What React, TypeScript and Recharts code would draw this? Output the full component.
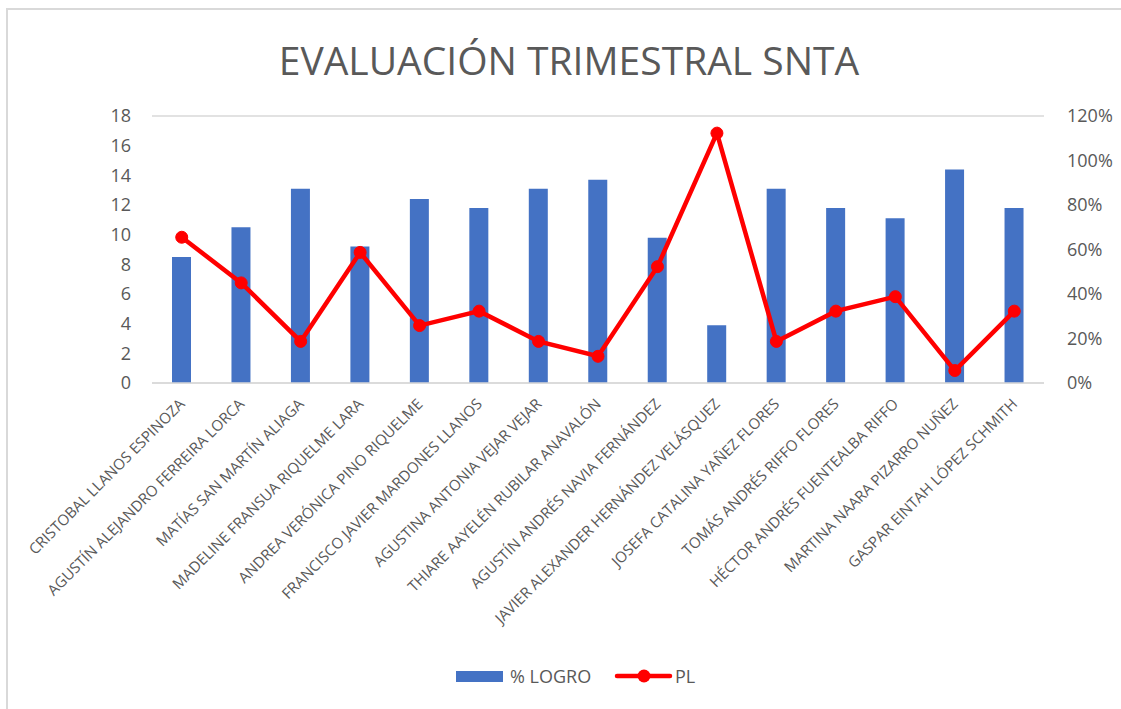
import React from "react";
import { ComposedChart, Bar, Line, XAxis, YAxis, CartesianGrid } from "recharts";

const students = [
  "CRISTOBAL LLANOS ESPINOZA",
  "AGUSTÍN ALEJANDRO FERREIRA LORCA",
  "MATÍAS SAN MARTÍN ALIAGA",
  "MADELINE FRANSUA RIQUELME LARA",
  "ANDREA VERÓNICA PINO RIQUELME",
  "FRANCISCO JAVIER MARDONES LLANOS",
  "AGUSTINA ANTONIA VEJAR VEJAR",
  "THIARE AAYELÉN RUBILAR ANAVALÓN",
  "AGUSTÍN ANDRÉS NAVIA FERNÁNDEZ",
  "JAVIER ALEXANDER HERNÁNDEZ VELÁSQUEZ",
  "JOSEFA CATALINA YAÑEZ FLORES",
  "TOMÁS ANDRÉS RIFFO FLORES",
  "HÉCTOR ANDRÉS FUENTEALBA RIFFO",
  "MARTINA NAARA PIZARRO NUÑEZ",
  "GASPAR EINTAH LÓPEZ SCHMITH",
];

const logro = [8.5, 10.5, 13.1, 9.2, 12.4, 11.8, 13.1, 13.7, 9.8, 3.9, 13.1, 11.8, 11.1, 14.4, 11.8];
const pl = [0.655, 0.45, 0.187, 0.587, 0.258, 0.323, 0.187, 0.12, 0.523, 1.123, 0.187, 0.323, 0.388, 0.056, 0.323];

const leftTicks = [0, 2, 4, 6, 8, 10, 12, 14, 16, 18];
const rightTicks = [0, 0.2, 0.4, 0.6, 0.8, 1.0, 1.2];

const data = students.map((name, i) => ({ name, logro: logro[i], pl: pl[i] }));

const FONT = "'Open Sans', 'DejaVu Sans', sans-serif";
const TXT = "#595959";

const CatTick = (props: any) => {
  const { x, y, payload } = props;
  return (
    <g transform={`translate(${x + 4},${y + 22})`}>
      <text
        textAnchor="end"
        transform="rotate(-45)"
        fill={TXT}
        fontSize={15}
        fontFamily={FONT}
      >
        {payload.value}
      </text>
    </g>
  );
};

const LegendBox = () => (
  <div
    style={{
      position: "absolute",
      left: 0,
      top: 660,
      width: 1121,
      height: 32,
      fontFamily: FONT,
      fontSize: 18,
      color: TXT,
    }}
  >
    <svg width={1121} height={32} style={{ position: "absolute", left: 0, top: 0 }}>
      <rect x={456} y={11} width={47} height={11} fill="#4472C4" />
      <text x={510} y={23} fill={TXT} fontSize={18} fontFamily={FONT}>% LOGRO</text>
      <line x1={617} y1={16} x2={670} y2={16} stroke="#FF0000" strokeWidth={4.5} strokeLinecap="round" />
      <circle cx={644} cy={16} r={6.5} fill="#FF0000" />
      <text x={675} y={23} fill={TXT} fontSize={18} fontFamily={FONT}>PL</text>
    </svg>
  </div>
);

export default function App() {
  return (
    <div style={{ position: "absolute", left: 0, top: 0, width: 1121, height: 709, background: "#fff", overflow: "hidden" }}>
      <div
        style={{
          position: "absolute",
          left: 6,
          top: 8,
          width: 1200,
          height: 800,
          border: "2px solid #d9d9d9",
          boxSizing: "border-box",
        }}
      />
      <svg width={1121} height={100} style={{ position: "absolute", left: 0, top: 0 }}>
        <text x={569} y={75} textAnchor="middle" fill={TXT} fontSize={39} fontFamily={FONT}>
          EVALUACIÓN TRIMESTRAL SNTA
        </text>
      </svg>
      <div style={{ position: "absolute", left: 0, top: 0 }}>
        <ComposedChart
          width={1121}
          height={709}
          data={data}
          margin={{ top: 116, right: 0, bottom: 126, left: 0 }}
        >
          <CartesianGrid vertical={false} stroke="#d9d9d9" strokeWidth={1.5} />
          <XAxis
            dataKey="name"
            interval={0}
            tick={<CatTick />}
            tickLine={false}
            tickSize={0}
            tickMargin={0}
            height={200}
            axisLine={{ stroke: "#d9d9d9", strokeWidth: 1.5 }}
          />
          <YAxis
            yAxisId="left"
            orientation="left"
            domain={[0, 18]}
            ticks={leftTicks}
            width={152}
            axisLine={false}
            tickLine={false}
            tickSize={0}
            tickMargin={21}
            tick={{ fill: TXT, fontSize: 18, fontFamily: FONT }}
          />
          <YAxis
            yAxisId="right"
            orientation="right"
            domain={[0, 1.2]}
            ticks={rightTicks}
            width={77}
            axisLine={false}
            tickLine={false}
            tickSize={0}
            tickMargin={23}
            tickFormatter={(v: number) => `${Math.round(v * 100)}%`}
            tick={{ fill: TXT, fontSize: 18, fontFamily: FONT }}
          />
          <Bar yAxisId="left" dataKey="logro" fill="#4472C4" barSize={19} isAnimationActive={false} />
          <Line
            yAxisId="right"
            dataKey="pl"
            stroke="#FF0000"
            strokeWidth={4.5}
            dot={{ r: 6, fill: "#FF0000", stroke: "#FF0000", strokeWidth: 1 }}
            activeDot={false}
            isAnimationActive={false}
          />
        </ComposedChart>
      </div>
      <LegendBox />
    </div>
  );
}
